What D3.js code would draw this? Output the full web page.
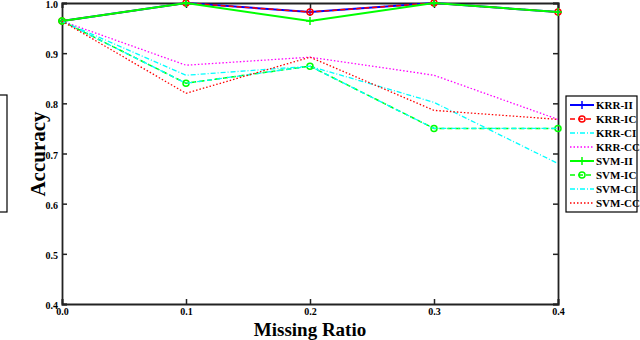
<!DOCTYPE html>
<html>
<head>
<meta charset="utf-8">
<script src="https://cdn.jsdelivr.net/npm/d3@7"></script>
<style>
  body { margin: 0; background: #fff; }
  svg { display: block; }
</style>
</head>
<body>
<svg></svg>
<script>

const ratios = [0.0, 0.1, 0.2, 0.3, 0.4]
const xTicks = ["0.0", "0.1", "0.2", "0.3", "0.4"]
const yTicks = [0.4, 0.5, 0.6, 0.7, 0.8, 0.9, 1.0]

const seriesNames = ["KRR-II", "KRR-IC", "KRR-CI", "KRR-CC", "SVM-II", "SVM-IC", "SVM-CI", "SVM-CC"]

const krrII = [0.964, 1.0, 0.982, 1.0, 0.982]
const krrIC = [0.964, 1.0, 0.982, 1.0, 0.982]
const krrCI = [0.964, 0.856, 0.874, 0.802, 0.680]
const krrCC = [0.964, 0.876, 0.892, 0.856, 0.768]
const svmII = [0.964, 1.0, 0.964, 1.0, 0.982]
const svmIC = [0.964, 0.840, 0.874, 0.750, 0.750]
const svmCI = [0.964, 0.840, 0.874, 0.750, 0.750]
const svmCC = [0.964, 0.820, 0.892, 0.786, 0.768]

const seriesValues = [krrII, krrIC, krrCI, krrCC, svmII, svmIC, svmCI, svmCC]

const styles = [
    { color: "#0000ff", dash: null, width: 2, marker: "plus" },
    { color: "#ff0000", dash: "5,3", width: 1.5, marker: "circle" },
    { color: "#00ffff", dash: "5,2,1,2", width: 1.3, marker: null },
    { color: "#ff00ff", dash: "1.5,2", width: 1.3, marker: null },
    { color: "#00ff00", dash: null, width: 2, marker: "plus" },
    { color: "#00ff00", dash: "5,3", width: 1.5, marker: "circle" },
    { color: "#00ffff", dash: "5,2,1,2", width: 1.3, marker: null },
    { color: "#ff0000", dash: "1.5,2", width: 1.3, marker: null }
]

const svg = d3.select("svg")
    .attr("width", 640)
    .attr("height", 340)

const plotLeft = 62, plotRight = 558, plotTop = 3, plotBottom = 304

const x = d3.scaleLinear().domain([0, 0.4]).range([plotLeft, plotRight])
const y = d3.scaleLinear().domain([0.4, 1.0]).range([plotBottom, plotTop])

const serif = "'Liberation Serif', 'DejaVu Serif', serif"

// clipped box on the left edge
svg.append("rect")
    .attr("x", -20).attr("y", 95)
    .attr("width", 27).attr("height", 117)
    .attr("fill", "none").attr("stroke", "#000").attr("stroke-width", 1.2)

// axes: bottom, left, top, right with inward ticks
const bottomAxis = d3.axisBottom(x).tickValues(ratios).tickSize(-5).tickFormat((d, i) => xTicks[i])
const leftAxis = d3.axisLeft(y).tickValues(yTicks).tickSize(-5).tickFormat(d3.format(".1f"))
const topAxis = d3.axisTop(x).tickValues(ratios).tickSize(-5).tickFormat("")
const rightAxis = d3.axisRight(y).tickValues(yTicks).tickSize(-5).tickFormat("")

const styleAxis = function (g) {
    g.select(".domain").attr("stroke", "#222").attr("stroke-width", 1.8)
    g.selectAll(".tick line").attr("stroke", "#222").attr("stroke-width", 1.5)
    g.selectAll(".tick text")
        .attr("font-family", serif)
        .attr("font-size", 10)
        .attr("font-weight", "bold")
        .attr("fill", "#000")
}

svg.append("g").attr("transform", `translate(0,${plotBottom})`).call(bottomAxis).call(styleAxis)
    .selectAll(".tick text").attr("y", 4)
svg.append("g").attr("transform", `translate(${plotLeft},0)`).call(leftAxis).call(styleAxis)
    .selectAll(".tick text").attr("x", -4).attr("dy", "0.45em")
svg.append("g").attr("transform", `translate(0,${plotTop})`).call(topAxis).call(styleAxis)
svg.append("g").attr("transform", `translate(${plotRight},0)`).call(rightAxis).call(styleAxis)

// lines
const line = d3.line()
    .x((d, i) => x(ratios[i]))
    .y(d => y(d))

const plot = svg.append("g")

const drawMarker = function (g, st, cx, cy) {
    if (st.marker === "plus") {
        g.append("path")
            .attr("d", `M${cx - 4},${cy}H${cx + 4}M${cx},${cy - 4}V${cy + 4}`)
            .attr("stroke", st.color).attr("stroke-width", 1.5)
    } else if (st.marker === "circle") {
        g.append("circle")
            .attr("cx", cx).attr("cy", cy).attr("r", 3)
            .attr("fill", "none").attr("stroke", st.color).attr("stroke-width", 1.5)
    }
}

seriesValues.forEach((vals, s) => {
    const st = styles[s]
    plot.append("path")
        .datum(vals)
        .attr("d", line)
        .attr("fill", "none")
        .attr("stroke", st.color)
        .attr("stroke-width", st.width)
        .attr("stroke-dasharray", st.dash)
    vals.forEach((v, i) => drawMarker(plot, st, x(ratios[i]), y(v)))
})

// axis titles
svg.append("text")
    .attr("transform", `translate(45,154) rotate(-90)`)
    .attr("text-anchor", "middle")
    .attr("font-family", serif)
    .attr("font-weight", "bold")
    .attr("font-size", 21)
    .text("Accuracy")

svg.append("text")
    .attr("x", x(0.2))
    .attr("y", 336)
    .attr("text-anchor", "middle")
    .attr("font-family", serif)
    .attr("font-weight", "bold")
    .attr("font-size", 19)
    .text("Missing Ratio")

// legend
const legend = svg.append("g")
legend.append("rect")
    .attr("x", 566).attr("y", 96)
    .attr("width", 71).attr("height", 116)
    .attr("fill", "#fff").attr("stroke", "#000").attr("stroke-width", 1.2)

seriesNames.forEach((name, i) => {
    const st = styles[i]
    const ly = 105 + i * 14
    legend.append("line")
        .attr("x1", 570).attr("x2", 594)
        .attr("y1", ly).attr("y2", ly)
        .attr("stroke", st.color)
        .attr("stroke-width", st.width)
        .attr("stroke-dasharray", st.dash)
    drawMarker(legend, st, 582, ly)
    legend.append("text")
        .attr("x", 596).attr("y", ly + 4)
        .attr("font-family", serif)
        .attr("font-size", 11)
        .attr("font-weight", "bold")
        .text(name)
})

</script>
</body>
</html>
